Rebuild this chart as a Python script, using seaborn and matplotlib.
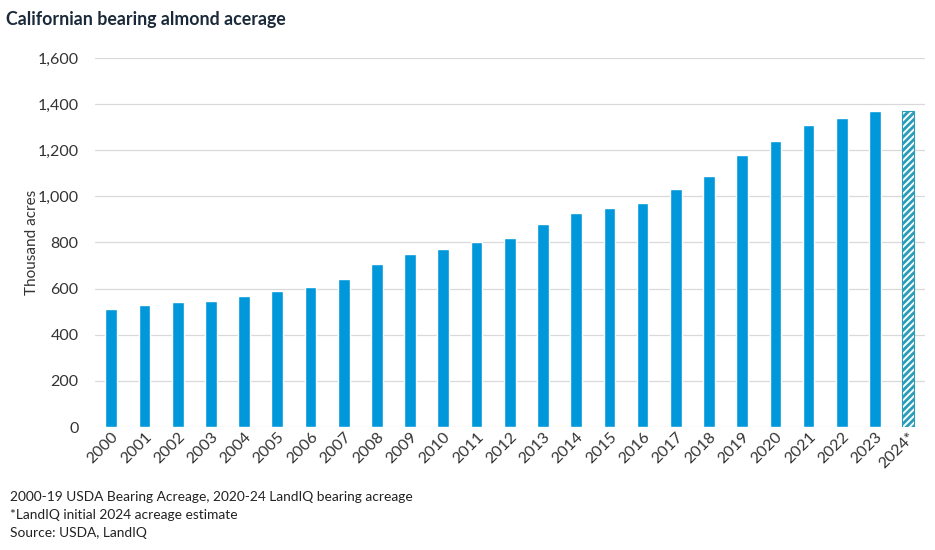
import matplotlib
matplotlib.use("Agg")
import matplotlib.pyplot as plt
import pandas as pd
import seaborn as sns

years = ["2000", "2001", "2002", "2003", "2004", "2005", "2006", "2007", "2008",
         "2009", "2010", "2011", "2012", "2013", "2014", "2015", "2016", "2017",
         "2018", "2019", "2020", "2021", "2022", "2023", "2024*"]
acres = [510, 530, 540, 548, 570, 590, 607, 640, 707, 750, 770, 800, 820, 880,
         930, 950, 970, 1030, 1090, 1180, 1240, 1310, 1340, 1370, 1370]
yticks = [0, 200, 400, 600, 800, 1000, 1200, 1400, 1600]

title = "Californian bearing almond acerage"
notes = ["2000-19 USDA Bearing Acreage, 2020-24 LandIQ bearing acreage",
         "*LandIQ initial 2024 acreage estimate",
         "Source: USDA, LandIQ"]

sns.set_style("white")
plt.rcParams["font.family"] = ["Lato", "DejaVu Sans"]
plt.rcParams["hatch.linewidth"] = 2.0

df = pd.DataFrame({"year": years, "acres": acres})

fig = plt.figure(figsize=(9.35, 5.5), dpi=100)
ax = fig.add_axes([0.102, 0.2236, 0.887, 0.671])
sns.barplot(x="year", y="acres", data=df, color="#0098db", saturation=1,
            width=0.35, ax=ax)

# estimate bar: hatched
est = ax.patches[-1]
est.set_facecolor("white")
est.set_edgecolor("#2a9db8")
est.set_hatch("/////")
est.set_linewidth(0.8)

ax.set_xlim(-0.48, 24.5)
ax.set_ylim(0, 1600)
ax.set_yticks(yticks)
ax.set_yticklabels([f"{v:,}" for v in yticks], fontsize=11.5, color="#333333")
ax.yaxis.grid(True, color="#d9d9d9", linewidth=0.9)
ax.set_axisbelow(True)
for s in ax.spines.values():
    s.set_visible(False)
ax.tick_params(axis="y", length=0, pad=12)
ax.tick_params(axis="x", length=0, pad=2)
ax.set_xticks(range(len(years)))
ax.set_xticklabels(years, rotation=45, ha="right", rotation_mode="anchor",
                   fontsize=11.5, color="#333333")
ax.set_xlabel(None)
ax.set_ylabel("Thousand acres", fontsize=11, color="#333333")
ax.yaxis.set_label_coords(-0.068, 0.5)

fig.text(0.006, 0.965, title, fontsize=12.8, fontweight="bold",
         color="#1b2a3a", va="center")
for i, n in enumerate(notes):
    fig.text(0.011, 0.097 - i * 0.033, n, fontsize=9.9, color="#222222",
             va="center")

fig.savefig("out.png", dpi=100)
